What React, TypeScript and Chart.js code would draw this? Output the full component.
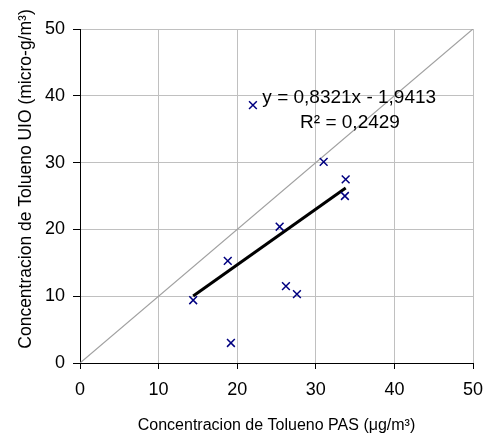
import { useEffect, useRef } from "react";
import { Chart, registerables } from "chart.js";

Chart.register(...registerables);

// Data
const pasValues = [22.0, 31.0, 33.8, 33.7, 25.4, 18.8, 26.2, 27.6, 14.4, 19.2];
const uioValues = [38.6, 30.1, 27.5, 25.0, 20.4, 15.3, 11.5, 10.3, 9.4, 3.0];
const trendSlope = 0.8321;
const trendIntercept = -1.9413;
const identityLine = [0, 50];
const axisMin = 0;
const axisMax = 50;
const axisStep = 10;
const equationLabel = "y = 0,8321x - 1,9413";
const r2Label = "R² = 0,2429";
const xTitle = "Concentracion de Tolueno PAS (μg/m³)";
const yTitle = "Concentracion de Tolueno UIO (micro-g/m³)";
// annotation anchor (in data units)
const equationAnchor = { x: 23.2, y: 39.7 };
const r2Anchor = { x: 28.0, y: 35.9 };

const FONT = '"Liberation Sans", Arial, sans-serif';

const zeroPadding = (s: any) => {
  s.paddingLeft = 0;
  s.paddingRight = 0;
  s.paddingTop = 0;
  s.paddingBottom = 0;
};

export default function App() {
  const ref = useRef<HTMLCanvasElement | null>(null);

  useEffect(() => {
    document.body.style.margin = "0";
    const canvas = ref.current;
    if (!canvas) return;

    const xMinData = Math.min(...pasValues);
    const xMaxData = Math.max(...pasValues);
    const trend = [xMinData, xMaxData].map((x) => ({ x, y: trendSlope * x + trendIntercept }));

    const annotation = {
      id: "annotation",
      afterDatasetsDraw(chart: any) {
        const { ctx, scales } = chart;
        ctx.save();
        ctx.fillStyle = "#000";
        ctx.font = `19px ${FONT}`;
        ctx.textAlign = "left";
        ctx.textBaseline = "middle";
        ctx.fillText(
          equationLabel,
          scales.x.getPixelForValue(equationAnchor.x),
          scales.y.getPixelForValue(equationAnchor.y)
        );
        ctx.fillText(
          r2Label,
          scales.x.getPixelForValue(r2Anchor.x),
          scales.y.getPixelForValue(r2Anchor.y)
        );
        ctx.restore();
      },
      afterDraw(chart: any) {
        const { ctx } = chart;
        ctx.save();
        ctx.fillStyle = "#000";
        ctx.font = `17.5px ${FONT}`;
        ctx.textAlign = "center";
        ctx.textBaseline = "alphabetic";
        ctx.translate(31, 179);
        ctx.rotate(-Math.PI / 2);
        ctx.fillText(yTitle, 0, 0);
        ctx.restore();
      },
    };

    const chart = new Chart(canvas, {
      type: "scatter",
      data: {
        datasets: [
          {
            label: "identity",
            data: identityLine.map((v) => ({ x: v, y: v })),
            showLine: true,
            borderColor: "#a0a0a0",
            borderWidth: 1.2,
            pointRadius: 0,
            order: 3,
          },
          {
            label: "trend",
            data: trend,
            showLine: true,
            borderColor: "#000000",
            borderWidth: 3,
            pointRadius: 0,
            order: 2,
          },
          {
            label: "points",
            data: pasValues.map((x, i) => ({ x, y: uioValues[i] })),
            pointStyle: "crossRot",
            pointRadius: 5.5,
            pointBorderWidth: 1.5,
            borderColor: "#000080",
            backgroundColor: "#000080",
            showLine: false,
            order: 1,
          },
        ],
      },
      options: {
        animation: false,
        responsive: false,
        maintainAspectRatio: false,
        layout: { padding: { top: 29, right: 13, left: 0, bottom: 0 } },
        plugins: { legend: { display: false }, tooltip: { enabled: false } },
        scales: {
          x: {
            type: "linear",
            min: axisMin,
            max: axisMax,
            afterFit: (s: any) => {
              s.height = 74;
              zeroPadding(s);
            },
            ticks: {
              stepSize: axisStep,
              color: "#000",
              font: { family: FONT, size: 18 },
              padding: 10,
            },
            grid: {
              color: "#c0c0c0",
              lineWidth: 1,
              tickColor: "#000",
              tickLength: 6,
            },
            border: { color: "#000", width: 1 },
            title: {
              display: true,
              text: xTitle,
              color: "#000",
              font: { family: FONT, size: 16 },
              padding: { top: 0, bottom: 2 },
            },
          },
          y: {
            type: "linear",
            min: axisMin,
            max: axisMax,
            afterFit: (s: any) => {
              s.width = 80;
              zeroPadding(s);
            },
            ticks: {
              stepSize: axisStep,
              color: "#000",
              font: { family: FONT, size: 18 },
              padding: 8,
            },
            grid: {
              color: "#c0c0c0",
              lineWidth: 1,
              tickColor: "#000",
              tickLength: 7,
            },
            border: { color: "#000", width: 1 },
            title: { display: false },
          },
        },
      },
      plugins: [annotation],
    });

    return () => chart.destroy();
  }, []);

  return (
    <div style={{ width: 486, height: 437, background: "#fff" }}>
      <canvas ref={ref} width={486} height={437} style={{ display: "block" }} />
    </div>
  );
}
